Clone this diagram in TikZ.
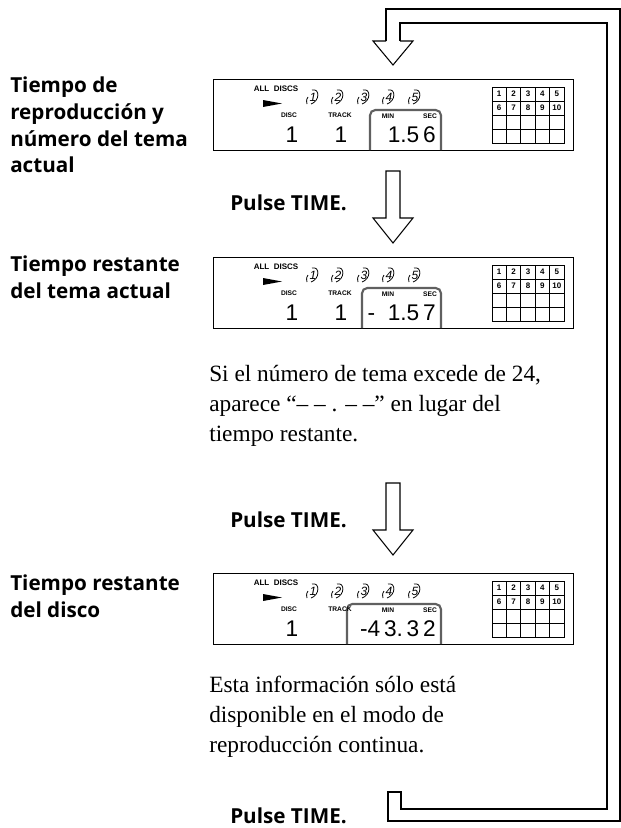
\documentclass[tikz,border=0pt]{standalone}
\usepackage{fontspec}
\setmainfont{Liberation Serif}
\setsansfont{Open Sans}
\newfontfamily\lcd{Liberation Sans}
\newfontfamily\lcdthin{DejaVu Sans}
\begin{document}
\begin{tikzpicture}[x=0.75pt,y=-0.75pt,
  lab/.style={font=\sffamily\bfseries\fontsize{15.5}{20}\selectfont,align=left,anchor=west,inner sep=0},
  para/.style={font=\fontsize{17.5}{22.5}\selectfont,align=left,anchor=west,inner sep=0},
  tiny/.style={font=\lcd\bfseries\fontsize{5}{5}\selectfont,inner sep=0},
  seg/.style={font=\lcd\fontsize{17}{17}\selectfont,inner sep=0},
  dn/.style={font=\lcd\itshape\fontsize{9}{9}\selectfont,inner sep=0},
  hol/.style={draw,line width=0.8pt,fill=white}]
\useasboundingbox (0,0) rectangle (621,828);
% loop band
\draw[line width=0.8pt] (386,42) -- (386,9) -- (620,9) -- (620,821) -- (388,821) -- (388,792) -- (401,792) -- (401,809) -- (607,809) -- (607,23) -- (400,23) -- (400,42);
\draw[hol] (386,41) -- (373,41) -- (393,65) -- (413,41) -- (400,41);
% hollow arrows
\foreach \t in {171,483}{
  \draw[hol] (386,\t) -- (386,\t+47) -- (373,\t+47) -- (393,\t+72) -- (413,\t+47) -- (400,\t+47) -- (400,\t) -- cycle;}
% displays
\foreach \oy/\xl/\tm/\lw in {0/370/{1.5\,6}/0, 178/362/{-\ \ 1.5\,7}/0, 494/347/{-4\,3.\,3\,2}/1}{
\begin{scope}[yshift=-\oy*0.75pt]
  \node[draw,line width=1.1pt,minimum width=270pt,minimum height=53pt,anchor=north west,inner sep=0] (bx) at (213,79) {};
  \draw[line width=1.6pt,gray!75!black,rounded corners=4pt] (\xl,150) -- (\xl,110) -- (441,110) -- (441,150);
  \node[tiny,font=\lcd\bfseries\fontsize{6}{6}\selectfont] at (276,89) {ALL\ \ DISCS};
  \fill (263,100) -- (282,103.5) -- (263,107) -- cycle;
  \node[tiny] at (289,115) {DISC};
  \node[tiny] at (340,115) {TRACK};
  \node[tiny] at (388,116) {MIN};
  \node[tiny] at (430,116) {SEC};
  \node[seg] at (292,135) {1};
  \ifnum\lw=0 \node[seg] at (341,135) {1};\fi
  \node[seg,anchor=east] at (436,135) {\tm};
  \foreach \d [count=\i] in {313,338,364,389,415}{
    \node[dn] at (\d,97) {\i};
    \draw[line width=0.6pt] (\d-1,90) .. controls (\d+7,88) and (\d+7,101) .. (\d-2,104);
    \draw[line width=0.6pt] (\d-6,104) .. controls (\d-7,100) and (\d-6,98) .. (\d-5,97);}
  \foreach \c in {0,...,4}{ \foreach \r in {0,...,3}{
    \draw[line width=0.6pt] (492+14.4*\c,87+14*\r) rectangle ++(14.4,14);}}
  \foreach \v [count=\i] in {1,...,10}{
    \pgfmathtruncatemacro\cc{mod(\i-1,5)}\pgfmathtruncatemacro\rr{div(\i-1,5)}
    \node[tiny,font=\lcd\bfseries\fontsize{6}{6}\selectfont] at (499.2+14.4*\cc,94+14*\rr) {\v};}
\end{scope}}
% labels
\node[lab] (l1) at (10,125) {Tiempo de\\reproducción y\\número del tema\\actual};
\node[lab] (l2) at (10,277) {Tiempo restante\\del tema actual};
\node[lab] (l3) at (10,596) {Tiempo restante\\del disco};
\node[lab] (p1) at (230,203) {Pulse TIME.};
\node[lab] (p2) at (230,520) {Pulse TIME.};
\node[lab] (p3) at (230,816) {Pulse TIME.};
\node[para] (t1) at (209,406) {Si el número de tema excede de 24,\\aparece “-- -- . -- --” en lugar del\\tiempo restante.};
\node[para] (t2) at (209,717) {Esta información sólo está\\disponible en el modo de\\reproducción continua.};
\end{tikzpicture}
\end{document}
